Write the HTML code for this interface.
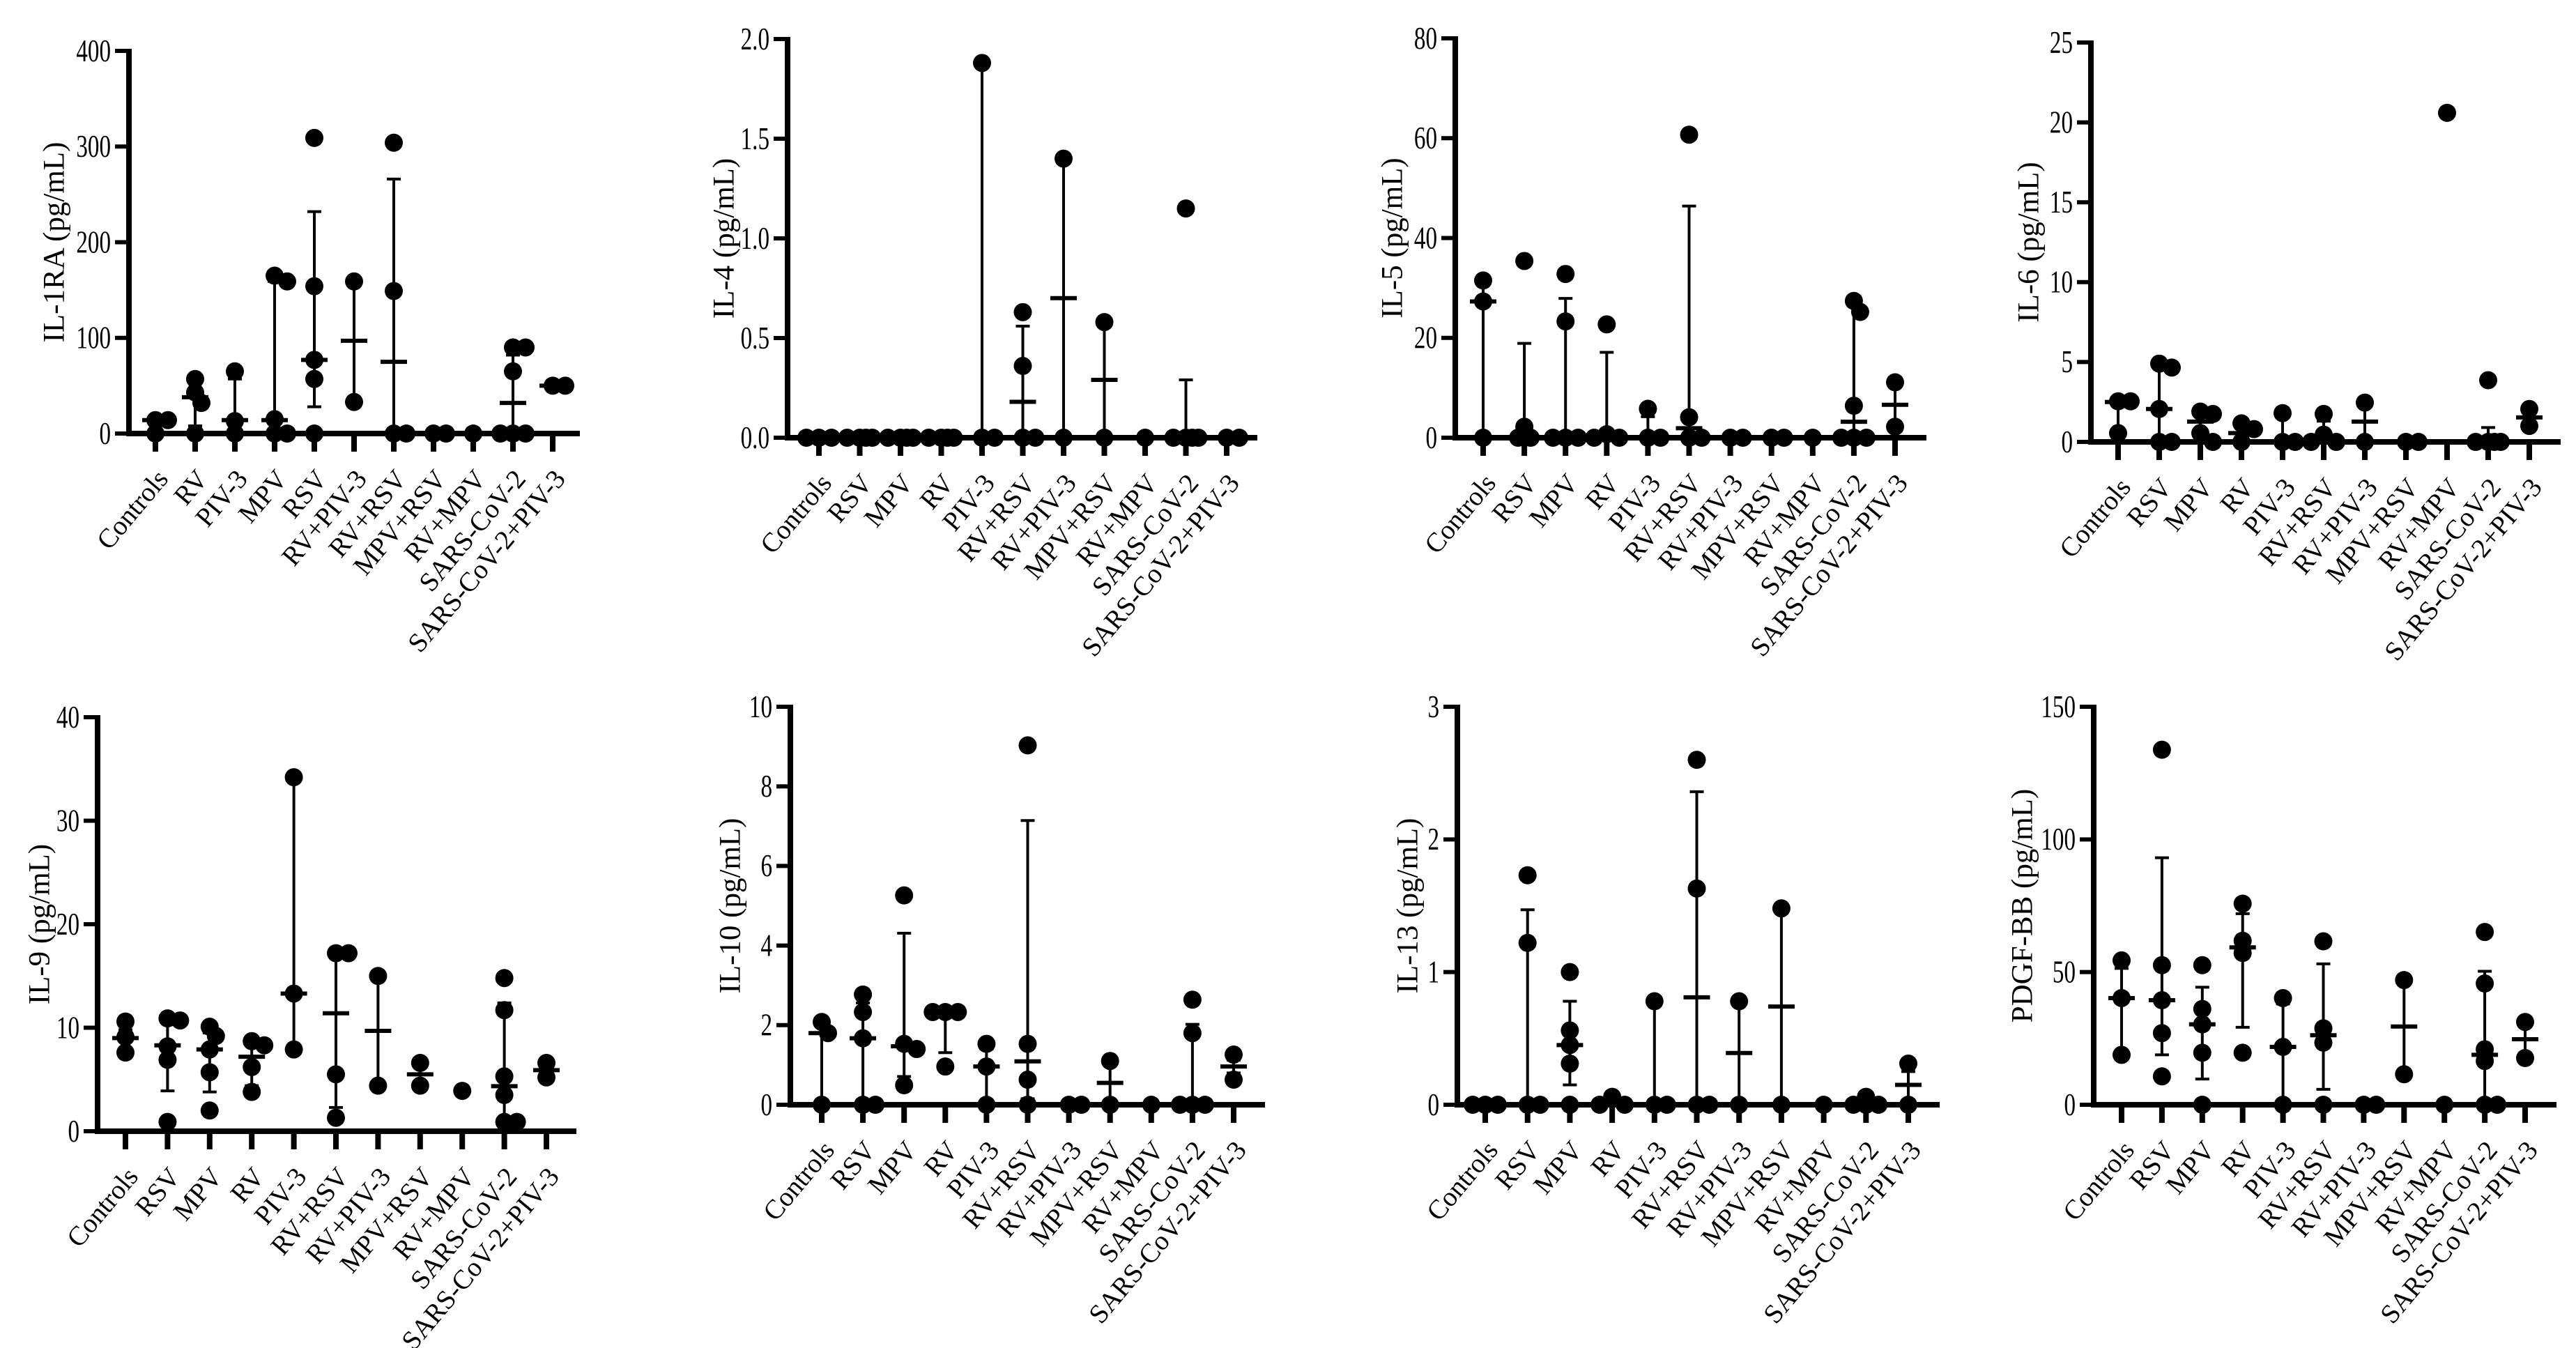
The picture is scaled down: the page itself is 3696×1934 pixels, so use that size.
<!DOCTYPE html>
<html><head><meta charset="utf-8"><style>
html,body{margin:0;padding:0;background:#fff}
svg{display:block}
text{font-family:"Liberation Serif",serif;fill:#000}
</style></head><body>
<svg id="fig" width="3696" height="1934" viewBox="0 0 3696 1934" xmlns="http://www.w3.org/2000/svg"></svg>
<script>
// ---------- data ----------
const catsA = ["Controls","RV","PIV-3","MPV","RSV","RV+PIV-3","RV+RSV","MPV+RSV","RV+MPV","SARS-CoV-2","SARS-CoV-2+PIV-3"];
const catsB = ["Controls","RSV","MPV","RV","PIV-3","RV+RSV","RV+PIV-3","MPV+RSV","RV+MPV","SARS-CoV-2","SARS-CoV-2+PIV-3"];

const il1raPts = [[14,14,0],[57,43,32,0],[65,13,0],[165,159,15,0,0],[309,154,77,57,0],[159,33],[304,149,0,0],[0,0],[0],[90,90,65,0,0,0],[50,50]];
const il1raMid = [14,38,14,14,77,97,75,0,null,32,50];
const il1raLo  = [null,8,0,0,28,33,0,null,null,0,null];
const il1raHi  = [null,53,57,159,232,159,266,null,null,82,null];
const il1raTicks = [0,100,200,300,400];

const il4Pts = [[0,0,0],[0,0,0,0],[0,0,0,0],[0,0,0,0],[1.88,0,0],[0.63,0.36,0,0],[1.40,0],[0.58,0],[0],[1.15,0,0,0,0],[0,0]];
const il4Mid = [0,0,0,0,0,0.18,0.70,0.29,null,0,0];
const il4Lo  = [null,null,null,null,0,0,0,0,null,0,null];
const il4Hi  = [null,null,null,null,1.88,0.56,1.40,0.58,null,0.29,null];
const il4Ticks = [0,0.5,1.0,1.5,2.0];
const il4TickText = ["0.0","0.5","1.0","1.5","2.0"];

const il5Pts = [[31.5,27.3,0],[35.4,2.2,0,0,0],[32.8,23.3,0,0,0],[22.7,0.7,0,0],[5.8,0,0],[60.7,4.1,0,0],[0,0],[0,0],[0],[27.4,25.2,6.4,0,0,0],[11.1,2.2]];
const il5Mid = [27.3,0,0,0,0,1.9,0,0,null,3.2,6.6];
const il5Lo  = [0,0,0,0,0,0,null,null,null,0,2.2];
const il5Hi  = [31.5,18.9,27.9,17.1,4.2,46.4,null,null,null,27.4,11.1];
const il5Ticks = [0,20,40,60,80];

const il6Pts = [[2.54,2.54,0.55],[4.9,4.65,2.06,0,0],[1.9,1.75,0.55,0],[1.16,0.8,0],[1.8,0,0],[1.75,0.45,0,0],[2.46,0],[0,0],[20.6],[3.86,0,0,0,0],[2.06,1.0]];
const il6Mid = [2.5,2.06,1.27,0.55,0,0.2,1.27,0,null,0,1.53];
const il6Lo  = [0.55,0,0,0,0,0,0,null,null,0,1.16];
const il6Hi  = [2.54,4.9,1.75,0.95,1.8,1.3,2.46,null,null,0.9,1.96];
const il6Ticks = [0,5,10,15,20,25];

const il9Pts = [[10.6,9.1,7.6],[10.9,10.7,8.2,6.9,0.9],[10.1,9.2,7.9,5.7,2.0],[8.7,8.3,6.2,3.8],[34.2,13.3,7.9],[17.2,17.2,5.5,1.3],[15.0,4.4],[6.6,4.4],[3.9],[14.8,11.7,5.3,3.5,0.9,0.9],[6.6,5.2]];
const il9Mid = [9.0,8.3,7.9,7.2,13.3,11.4,9.7,5.5,null,4.35,5.9];
const il9Lo  = [7.6,3.9,3.8,4.4,7.9,2.3,4.4,4.4,null,0.9,5.2];
const il9Hi  = [9.8,10.8,9.5,8.5,34.2,17.2,15.0,6.6,null,12.4,6.6];
const il9Ticks = [0,10,20,30,40];

const il10Pts = [[2.08,1.8,0],[2.77,2.33,1.67,0,0],[5.26,1.53,1.40,0.49],[2.33,2.33,2.33,0.96],[1.53,0.96,0],[9.03,1.53,0.63,0],[0,0],[1.1,0],[0],[2.64,1.8,0,0,0],[1.26,0.63]];
const il10Mid = [1.8,1.67,1.47,2.33,0.96,1.09,0,0.55,null,0,0.96];
const il10Lo  = [0,0,0.71,1.31,0,0.15,null,0,null,0,0.8];
const il10Hi  = [2.08,2.56,4.31,2.33,1.4,7.14,null,1.1,null,2.02,1.12];
const il10Ticks = [0,2,4,6,8,10];

const il13Pts = [[0,0,0],[1.73,1.22,0,0],[1.0,0.56,0.45,0.31,0],[0.06,0,0],[0.78,0,0],[2.6,1.63,0,0],[0.78,0],[1.48,0],[0],[0.06,0,0,0],[0.31,0]];
const il13Mid = [0,0,0.45,0.02,0,0.81,0.39,0.74,null,0,0.15];
const il13Lo  = [null,0,0.15,null,0,0,0,0,null,null,0];
const il13Hi  = [null,1.47,0.78,null,0.78,2.36,0.78,1.48,null,null,0.25];
const il13Ticks = [0,1,2,3];

const pdgfPts = [[54.4,40.2,18.8],[133.8,52.6,39.4,27.0,10.7],[52.6,36.1,30.3,19.6,0],[75.8,61.8,57.2,19.6],[40.2,21.8,0],[61.6,28.8,23.4,0],[0,0],[47.0,11.5],[0],[65.1,45.7,20.9,16.5,0,0],[31.2,17.6]];
const pdgfMid = [40.2,39.4,30.3,59.3,21.8,26.2,0,29.5,null,18.8,24.7];
const pdgfLo  = [18.8,18.8,9.7,29.2,0,5.8,null,11.5,null,0,17.6];
const pdgfHi  = [51.4,93.1,44.3,72.0,38.0,53.1,null,47.0,null,50.3,29.5];
const pdgfTicks = [0,50,100,150];

// ---------- layout ----------
const panels = [
 {key:"il-1ra", title:"IL-1RA (pg/mL)", cats:catsA, pts:il1raPts, mid:il1raMid, lo:il1raLo, hi:il1raHi, ticks:il1raTicks, tickText:null,
  ax:185, y0:622, yTop:73, max:400, t0:223, t1:793, xEnd:832, tx:78},
 {key:"il-4", title:"IL-4 (pg/mL)", cats:catsB, pts:il4Pts, mid:il4Mid, lo:il4Lo, hi:il4Hi, ticks:il4Ticks, tickText:il4TickText,
  ax:1130, y0:628, yTop:56, max:2, t0:1175, t1:1760, xEnd:1804, tx:1039},
 {key:"il-5", title:"IL-5 (pg/mL)", cats:catsB, pts:il5Pts, mid:il5Mid, lo:il5Lo, hi:il5Hi, ticks:il5Ticks, tickText:null,
  ax:2088, y0:628, yTop:55, max:80, t0:2128, t1:2719, xEnd:2764, tx:1998},
 {key:"il-6", title:"IL-6 (pg/mL)", cats:catsB, pts:il6Pts, mid:il6Mid, lo:il6Lo, hi:il6Hi, ticks:il6Ticks, tickText:null,
  ax:3000, y0:634, yTop:61, max:25, t0:3039, t1:3629, xEnd:3674, tx:2911},
 {key:"il-9", title:"IL-9 (pg/mL)", cats:catsB, pts:il9Pts, mid:il9Mid, lo:il9Lo, hi:il9Hi, ticks:il9Ticks, tickText:null,
  ax:140, y0:1623, yTop:1029, max:40, t0:180, t1:784, xEnd:827, tx:57},
 {key:"il-10", title:"IL-10 (pg/mL)", cats:catsB, pts:il10Pts, mid:il10Mid, lo:il10Lo, hi:il10Hi, ticks:il10Ticks, tickText:null,
  ax:1134, y0:1585, yTop:1014, max:10, t0:1179, t1:1770, xEnd:1815, tx:1048},
 {key:"il-13", title:"IL-13 (pg/mL)", cats:catsB, pts:il13Pts, mid:il13Mid, lo:il13Lo, hi:il13Hi, ticks:il13Ticks, tickText:null,
  ax:2091, y0:1585, yTop:1014, max:3, t0:2131, t1:2738, xEnd:2783, tx:2020},
 {key:"pdgf-bb", title:"PDGF-BB (pg/mL)", cats:catsB, pts:pdgfPts, mid:pdgfMid, lo:pdgfLo, hi:pdgfHi, ticks:pdgfTicks, tickText:null,
  ax:3004, y0:1585, yTop:1014, max:150, t0:3044, t1:3623, xEnd:3668, tx:2902}
];

const NS = "http://www.w3.org/2000/svg";
const fig = document.getElementById("fig");
function mk(tag, attrs, parent){
  const e = document.createElementNS(NS, tag);
  for (const k in attrs) e.setAttribute(k, attrs[k]);
  parent.appendChild(e);
  return e;
}

panels.forEach(p => {
  const g = mk("g", {}, fig);
  
  
  const yScale = v => p.y0 - (v / p.max) * (p.y0 - p.yTop);
  const xScale = i => p.t0 + i * (p.t1 - p.t0) / (p.cats.length - 1);

  // axis title (centered on axis)
  const ty = (p.y0 + p.yTop) / 2;
  const t = mk("text", {x:0, y:0, "font-size":43, "text-anchor":"middle", "dominant-baseline":"central",
    transform:`translate(${p.tx},${ty}) rotate(-90)`}, g);
  t.textContent = p.title;
  
  

  // y ticks
  p.ticks.forEach((v, k) => {
    const y = yScale(v);
    const tk = mk("line", {x1:p.ax - 20, x2:p.ax, y1:y, y2:y, stroke:"#000", "stroke-width":6}, g);
    
    
    const lb = mk("text", {x:0, y:0, "font-size":36, "text-anchor":"end", "dominant-baseline":"central",
      transform:`translate(${p.ax - 26},${y}) scale(0.92,1.25)`}, g);
    lb.textContent = p.tickText ? p.tickText[k] : String(v);
    
    
  });

  // axes
  const ya = mk("line", {x1:p.ax, x2:p.ax, y1:p.yTop - 3, y2:p.y0 + 4, stroke:"#000", "stroke-width":8}, g);
  
  
  const xa = mk("line", {x1:p.ax - 4, x2:p.xEnd, y1:p.y0, y2:p.y0, stroke:"#000", "stroke-width":8}, g);
  
  

  p.cats.forEach((c, i) => {
    const x = xScale(i);
    const tk = mk("line", {x1:x, x2:x, y1:p.y0, y2:p.y0 + 26, stroke:"#000", "stroke-width":8}, g);
    
    
    const lb = mk("text", {x:0, y:0, "font-size":39, "text-anchor":"end",
      transform:`translate(${x + 20},${p.y0 + 66}) rotate(-50)`}, g);
    lb.textContent = c;
    
    

    // error bars
    if (p.lo[i] !== null && p.hi[i] !== null) {
      const yl = yScale(p.lo[i]), yh = yScale(p.hi[i]);
      const eb = mk("line", {x1:x, x2:x, y1:yl, y2:yh, stroke:"#000", "stroke-width":4}, g);
      
      
      [yl, yh].forEach(yy => {
        const cap = mk("line", {x1:x - 10, x2:x + 10, y1:yy, y2:yy, stroke:"#000", "stroke-width":4}, g);
        
        
      });
    }
    if (p.mid[i] !== null) {
      const ym = yScale(p.mid[i]);
      const m = mk("line", {x1:x - 19, x2:x + 19, y1:ym, y2:ym, stroke:"#000", "stroke-width":6}, g);
      
      
    }

    // dots (compact beeswarm, overlap allowed)
    const placed = [];
    const order = [0, 1, -1, 2, -2];
    p.pts[i].forEach(v => {
      const y = yScale(v);
      let best = x, bestD = -1;
      for (const k of order) {
        const cand = x + k * 9;
        const dmin = placed.length ? Math.min(...placed.map(q => Math.hypot(q[0] - cand, q[1] - y))) : 999;
        if (dmin >= 16) { best = cand; bestD = dmin; break; }
        if (dmin > bestD) { bestD = dmin; best = cand; }
      }
      placed.push([best, y]);
      const d = mk("circle", {cx:best, cy:y, r:13, fill:"#000"}, g);
      
      
    });
  });
});
</script>
</body></html>
